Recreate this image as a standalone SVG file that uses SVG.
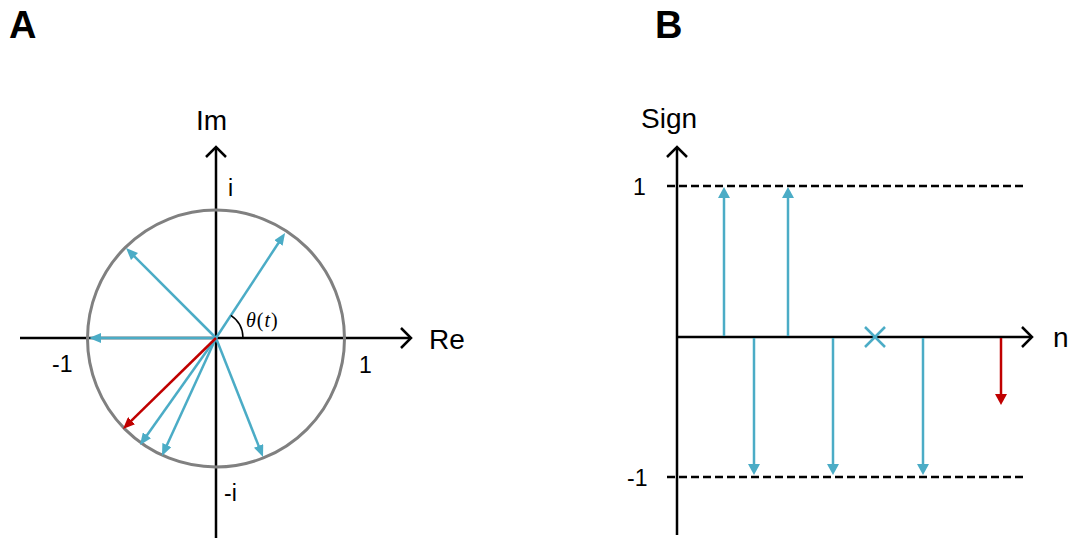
<svg xmlns="http://www.w3.org/2000/svg" width="1075" height="538" viewBox="0 0 1075 538">
  <style>
    .axis { stroke: #000; stroke-width: 2.5; fill: none; }
    .chev { stroke: #000; stroke-width: 2.5; fill: none; stroke-linejoin: miter; }
    .vec { stroke: #4BACC6; stroke-width: 2.5; fill: none; marker-end: url(#headBlue); }
    .vecRed { stroke: #C00000; stroke-width: 2.5; fill: none; marker-end: url(#headRed); }
    .bar { stroke: #4BACC6; stroke-width: 2.5; fill: none; marker-end: url(#barBlue); }
    .barRed { stroke: #C00000; stroke-width: 2.5; fill: none; marker-end: url(#barRed); }
    .dash { stroke: #000; stroke-width: 2.5; stroke-dasharray: 8 4; fill: none; }
    .lbl { font-family: "Liberation Sans", Arial, sans-serif; fill: #000; }
    .big { font-size: 28px; }
    .tick { font-size: 23px; }
    .panel { font-family: "Liberation Sans", Arial, sans-serif; font-weight: bold; font-size: 38px; fill: #000; }
  </style>
  <defs>
    <marker id="headBlue" markerUnits="userSpaceOnUse" markerWidth="12" markerHeight="10" refX="3" refY="5" orient="auto">
      <path d="M0,0 L12,5 L0,10 z" fill="#4BACC6"/>
    </marker>
    <marker id="headRed" markerUnits="userSpaceOnUse" markerWidth="12" markerHeight="10" refX="3" refY="5" orient="auto">
      <path d="M0,0 L12,5 L0,10 z" fill="#C00000"/>
    </marker>
    <marker id="barBlue" markerUnits="userSpaceOnUse" markerWidth="11" markerHeight="12" refX="3" refY="6" orient="auto">
      <path d="M0,0 L11,6 L0,12 z" fill="#4BACC6"/>
    </marker>
    <marker id="barRed" markerUnits="userSpaceOnUse" markerWidth="11" markerHeight="12" refX="3" refY="6" orient="auto">
      <path d="M0,0 L11,6 L0,12 z" fill="#C00000"/>
    </marker>
  </defs>

  <!-- Panel A: unit circle in the complex plane -->
  <g id="panelA">
    <text class="panel" x="9" y="38">A</text>

    <g id="axesA">
      <line class="axis" x1="20" y1="338" x2="411" y2="338"/>
      <polyline class="chev" points="401,328 411,338 401,348"/>
      <line class="axis" x1="216" y1="538" x2="216" y2="147"/>
      <polyline class="chev" points="206,157 216,147 226,157"/>
    </g>

    <circle id="unitCircle" cx="216" cy="338.5" r="128.5" fill="none" stroke="#808080" stroke-width="3"/>

    <g id="labelsA" class="lbl">
      <text class="big" x="196" y="130">Im</text>
      <text class="big" x="429" y="349">Re</text>
      <text class="tick" x="228" y="196">i</text>
      <text class="tick" x="224" y="501">-i</text>
      <text class="tick" x="52" y="372">-1</text>
      <text class="tick" x="359" y="373">1</text>
    </g>

    <g id="phasors">
      <line class="vec" x1="216" y1="338" x2="280.1" y2="240.5"/>
      <line class="vec" x1="216" y1="338" x2="132.4" y2="254.4"/>
      <line class="vec" x1="216" y1="338" x2="98" y2="338"/>
      <line class="vec" x1="216" y1="338" x2="145.2" y2="437.7"/>
      <line class="vec" x1="216" y1="338" x2="165.7" y2="447.8"/>
      <line class="vec" x1="216" y1="338" x2="259.7" y2="448.6"/>
      <line class="vecRed" x1="216" y1="338" x2="129.4" y2="422.7"/>
    </g>

    <g id="angle">
      <path d="M243,338 A27,27 0 0 0 230.8,315.4" fill="none" stroke="#000" stroke-width="1.5"/>
      <text x="246" y="327" font-family="'Liberation Serif', 'DejaVu Serif', serif" font-size="20" fill="#000" letter-spacing="1"><tspan font-style="italic">θ</tspan>(<tspan font-style="italic">t</tspan>)</text>
    </g>
  </g>

  <!-- Panel B: sign sequence -->
  <g id="panelB">
    <text class="panel" x="655" y="38">B</text>

    <g id="axesB">
      <line class="axis" x1="677" y1="535" x2="677" y2="147"/>
      <polyline class="chev" points="667,157 677,147 687,157"/>
      <line class="axis" x1="676" y1="337" x2="1032" y2="337"/>
      <polyline class="chev" points="1022,327 1032,337 1022,347"/>
      <line class="dash" x1="667" y1="186" x2="1025" y2="186"/>
      <line class="dash" x1="667" y1="477" x2="1025" y2="477"/>
    </g>

    <g id="labelsB" class="lbl">
      <text class="big" x="641" y="128">Sign</text>
      <text class="big" x="1053" y="347">n</text>
      <text class="tick" x="633" y="195">1</text>
      <text class="tick" x="627" y="486">-1</text>
    </g>

    <g id="signBars">
      <line class="bar" x1="724" y1="336" x2="724" y2="195"/>
      <line class="bar" x1="754" y1="338" x2="754" y2="467"/>
      <line class="bar" x1="788" y1="336" x2="788" y2="195"/>
      <line class="bar" x1="833" y1="338" x2="833" y2="467"/>
      <line class="bar" x1="923" y1="338" x2="923" y2="467"/>
      <line class="barRed" x1="1001" y1="338" x2="1001" y2="397"/>
    </g>

    <g id="skipMark" stroke="#4BACC6" stroke-width="2.5">
      <line x1="865" y1="327" x2="885" y2="347"/>
      <line x1="865" y1="347" x2="885" y2="327"/>
    </g>
  </g>
</svg>
